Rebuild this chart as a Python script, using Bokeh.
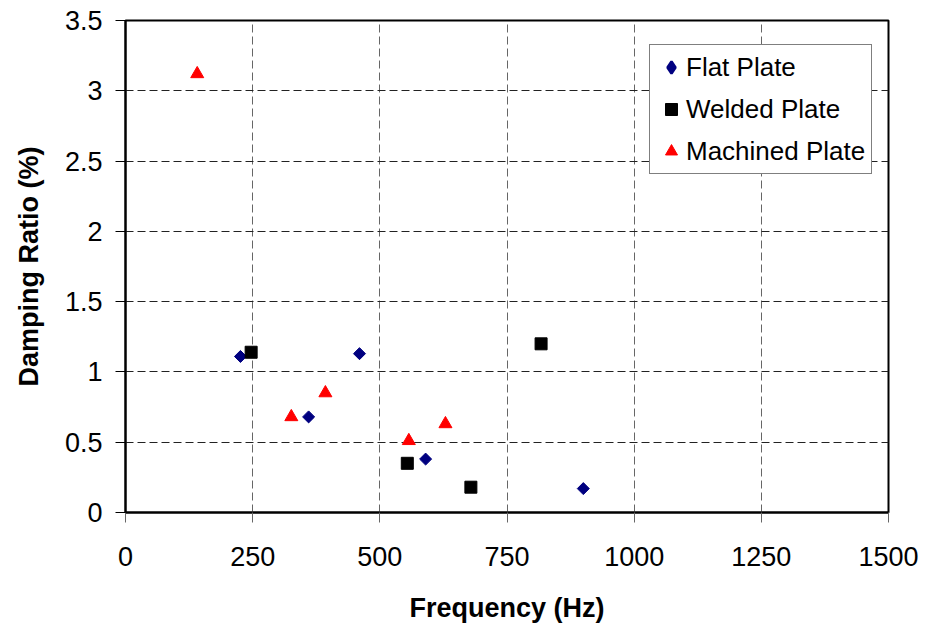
import numpy as np
from bokeh.plotting import figure
from bokeh.models import Range1d, Legend, LegendItem, FixedTicker
from bokeh.embed import file_html
from bokeh.resources import INLINE

# ---- data ----
flat_x = [226, 360, 460, 590, 900]
flat_y = [1.11, 0.68, 1.13, 0.38, 0.17]

welded_x = [247, 554, 679, 817]
welded_y = [1.14, 0.35, 0.18, 1.20]

machined_x = [141, 326, 393, 557, 629]
machined_y = [3.12, 0.68, 0.85, 0.51, 0.63]

x_ticks = [0, 250, 500, 750, 1000, 1250, 1500]
y_ticks = [0, 0.5, 1, 1.5, 2, 2.5, 3, 3.5]
y_tick_labels = ["0", "0.5", "1", "1.5", "2", "2.5", "3", "3.5"]

series_names = ["Flat Plate", "Welded Plate", "Machined Plate"]

FONT = "Liberation Sans"

p = figure(width=926, height=629,
           x_range=Range1d(0, 1500), y_range=Range1d(0, 3.5),
           output_backend="svg", toolbar_location=None,
           min_border_left=125, min_border_right=38,
           min_border_top=20, min_border_bottom=117)

p.background_fill_color = "white"
p.border_fill_color = "white"
p.outline_line_color = "black"
p.outline_line_width = 2

# axes
for ax in (p.xaxis[0], p.yaxis[0]):
    ax.axis_line_color = "black"
    ax.axis_line_width = 2
    ax.major_tick_in = 0
    ax.major_tick_out = 10
    ax.minor_tick_in = 0
    ax.minor_tick_out = 0
    ax.major_label_text_font = FONT
    ax.major_label_text_font_size = "27px"
    ax.major_label_text_color = "black"
    ax.axis_label_text_font = FONT
    ax.axis_label_text_font_size = "27px"
    ax.axis_label_text_font_style = "bold"
    ax.axis_label_text_color = "black"

p.xaxis.ticker = FixedTicker(ticks=x_ticks)
p.yaxis.ticker = FixedTicker(ticks=y_ticks)
p.yaxis.major_label_overrides = {v: s for v, s in zip(y_ticks, y_tick_labels)}
p.xaxis.major_tick_line_color = "#666666"
p.yaxis.major_tick_line_color = "black"
p.xaxis.major_label_standoff = 24
p.yaxis.major_label_standoff = 13
p.xaxis.axis_label = "Frequency (Hz)"
p.yaxis.axis_label = "Damping Ratio (%)"
p.xaxis.axis_label_standoff = 24
p.yaxis.axis_label_standoff = 18

# grid
p.xgrid.ticker = FixedTicker(ticks=x_ticks)
p.ygrid.ticker = FixedTicker(ticks=y_ticks)
p.xgrid.grid_line_color = "#666666"
p.xgrid.grid_line_dash = "8 4"
p.xgrid.grid_line_width = 1
p.ygrid.grid_line_color = "#222222"
p.ygrid.grid_line_dash = "8 4"
p.ygrid.grid_line_width = 1

NAVY = "#000080"
RED = "#FF0000"

# legend key glyph for the flat-plate diamonds (hidden under the plotted markers)
r_flat_key = p.scatter(flat_x, flat_y, marker="diamond", size=7,
                       fill_color=NAVY, line_color=NAVY, line_width=2.5)

# series
r_flat = p.scatter(flat_x, flat_y, marker="square", size=8.5, angle=np.pi / 4,
                   fill_color=NAVY, line_color=NAVY, line_width=1)
r_weld = p.scatter(welded_x, welded_y, marker="square", size=12,
                   fill_color="black", line_color="black", line_width=1)
r_mach = p.scatter(machined_x, machined_y, marker="triangle", size=13,
                   fill_color=RED, line_color=RED, line_width=1)

legend = Legend(items=[LegendItem(label=series_names[0], renderers=[r_flat_key]),
                       LegendItem(label=series_names[1], renderers=[r_weld]),
                       LegendItem(label=series_names[2], renderers=[r_mach])],
                location=(524, 338))
legend.label_text_font = FONT
legend.label_text_font_size = "26px"
legend.label_text_color = "black"
legend.padding = 6
legend.spacing = 10
legend.margin = 0
legend.glyph_width = 30
legend.glyph_height = 32
legend.label_standoff = 0
legend.border_line_color = "black"
legend.border_line_width = 1
legend.background_fill_color = "white"
legend.background_fill_alpha = 1.0
p.add_layout(legend)

open("out.html", "w").write(file_html(p, INLINE))
